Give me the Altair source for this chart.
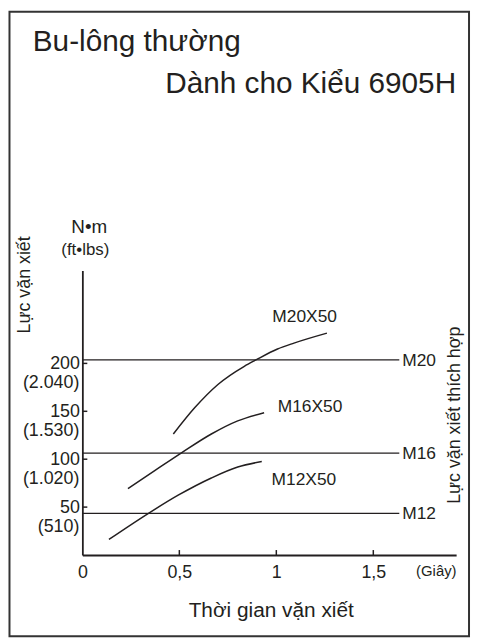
import altair as alt
import pandas as pd

# ---------------- data ----------------
m12_t = [0.137, 0.341, 0.494, 0.665, 0.801, 0.925]
m12_v = [16.2, 43.5, 62.4, 80.4, 91.8, 97.6]
m16_t = [0.235, 0.375, 0.511, 0.665, 0.801, 0.937]
m16_v = [69.4, 88.3, 106.6, 126.3, 140.0, 148.5]
m20_t = [0.469, 0.580, 0.699, 0.835, 0.895, 1.006, 1.091, 1.261]
m20_v = [126.3, 153.9, 178.0, 197.0, 203.6, 215.0, 221.2, 231.6]

curve_names = ["M12X50", "M16X50", "M20X50"]
curve_label_t = [1.142, 1.174, 1.146]
curve_label_v = [78.0, 154.2, 248.8]

level_names = ["M12", "M16", "M20"]
level_values = [43.5, 106.3, 203.6]
level_end = 1.634

y_ticks = [50, 100, 150, 200]
y_tick_ftlbs = ["(510)", "(1.020)", "(1.530)", "(2.040)"]
x_ticks = [0, 0.5, 1, 1.5]
x_inner_ticks = [0.5, 1, 1.5]

X_MAX = 1.927
Y_MAX = 297
W, H = 377, 287
FONT = "Liberation Sans"
INK = "#231f20"

# ---------------- tables ----------------
rows = []
for name, ts, vs in zip(curve_names, [m12_t, m16_t, m20_t], [m12_v, m16_v, m20_v]):
    for i, (t, v) in enumerate(zip(ts, vs)):
        rows.append({"series": name, "t": t, "v": v, "o": i})
curves = pd.DataFrame(rows)
curve_labels = pd.DataFrame({"label": curve_names, "t": curve_label_t, "v": curve_label_v})
levels = pd.DataFrame({"label": level_names, "v": level_values,
                       "t": [0.0] * 3, "t2": [level_end] * 3})
level_labels = pd.DataFrame({"label": level_names, "v": level_values, "t": [level_end] * 3})
ytick_df = pd.DataFrame({"v": y_ticks, "t": [0.0] * 4, "t2": [5 / (W / X_MAX)] * 4,
                         "ft": y_tick_ftlbs})
xtick_df = pd.DataFrame({"t": x_inner_ticks, "v": [0.0] * 3, "v2": [5 / (H / Y_MAX)] * 3})
one = pd.DataFrame({"a": [0]})

xs = alt.Scale(domain=[0, X_MAX], nice=False, zero=False)
ys = alt.Scale(domain=[0, Y_MAX], nice=False, zero=False)

xaxis = alt.Axis(values=x_ticks, format="~g",
                 labelExpr="replace(format(datum.value, '~g'), '.', ',')",
                 ticks=False, tickSize=0, grid=False, domainColor=INK, domainWidth=1.8,
                 labelFont=FONT, labelFontSize=18, labelColor=INK, labelPadding=9,
                 labelBaseline="top", labelFlush=False, labelOverlap=False,
                 title="Thời gian vặn xiết", titleFont=FONT, titleFontSize=21,
                 titleFontWeight="normal", titleColor=INK, titleX=190, titleY=62,
                 titleAlign="center", titleBaseline="alphabetic", titleAngle=0)
yaxis = alt.Axis(values=y_ticks, ticks=False, tickSize=0, grid=False,
                 domainColor=INK, domainWidth=1.8,
                 labelFont=FONT, labelFontSize=18, labelColor=INK, labelPadding=3,
                 labelBaseline="middle", labelOverlap=False, labelFlush=False,
                 title="Lực vặn xiết", titleFont=FONT, titleFontSize=18,
                 titleFontWeight="normal", titleColor=INK, titleX=-58, titleY=14,
                 titleAngle=270, titleAlign="center", titleBaseline="middle")

X = alt.X("t:Q", scale=xs, axis=xaxis)
Y = alt.Y("v:Q", scale=ys, axis=yaxis)

curve_layer = alt.Chart(curves).mark_line(color=INK, strokeWidth=1.5,
                                          interpolate="monotone").encode(
    x=X, y=Y, detail="series:N", order="o:Q")

level_layer = alt.Chart(levels).mark_rule(color=INK, strokeWidth=1.2).encode(
    x=X, x2="t2:Q", y=Y)

level_text = alt.Chart(level_labels).mark_text(
    align="left", baseline="middle", dx=3, dy=1, font=FONT, fontSize=17.5, color=INK
).encode(x=X, y=Y, text="label:N")

curve_text = alt.Chart(curve_labels).mark_text(
    align="center", baseline="middle", font=FONT, fontSize=17.5, color=INK
).encode(x=X, y=Y, text="label:N")

ytick_layer = alt.Chart(ytick_df).mark_rule(color=INK, strokeWidth=1.5).encode(
    x=X, x2="t2:Q", y=Y)
xtick_layer = alt.Chart(xtick_df).mark_rule(color=INK, strokeWidth=1.5).encode(
    x=X, y=Y, y2="v2:Q")

ft_text = alt.Chart(ytick_df).mark_text(
    align="right", baseline="middle", dx=-3, dy=20, font=FONT, fontSize=18, color=INK
).encode(x=alt.value(0), y=Y, text="ft:N")

def label(txt, x, y, size, align="center", baseline="alphabetic", angle=0):
    return alt.Chart(one).mark_text(
        text=txt, align=align, baseline=baseline, angle=angle,
        font=FONT, fontSize=size, color=INK
    ).encode(x=alt.value(x), y=alt.value(y))

title1 = label("Bu-lông thường", -50, -221.5, 30, align="left")
title2 = label("Dành cho Kiểu 6905H", 377, -178.5, 30, align="right")
unit1 = label("N•m", 7, -37.5, 19)
unit2 = label("(ft•lbs)", 3, -16, 17)
secs = label("(Giây)", 357, 303, 15, baseline="middle")
right_title = label("Lực vặn xiết thích hợp", 376, 146, 18, baseline="middle", angle=270)

border = alt.Chart(one).mark_rect(filled=False, stroke="#333333", strokeWidth=2).encode(
    x=alt.value(-73.5), x2=alt.value(390), y=alt.value(-261), y2=alt.value(369))

chart = alt.layer(
    level_layer, curve_layer, ytick_layer, xtick_layer, level_text, curve_text,
    ft_text, title1, title2, unit1, unit2, secs, right_title, border
).properties(
    width=W, height=H,
    padding={"left": 75, "top": 262, "right": 15, "bottom": 84},
    autosize=alt.AutoSizeParams(type="none"),
    background="white",
).configure_view(stroke=None)

chart.save("out.html", embed_options={"renderer": "svg", "actions": False})
